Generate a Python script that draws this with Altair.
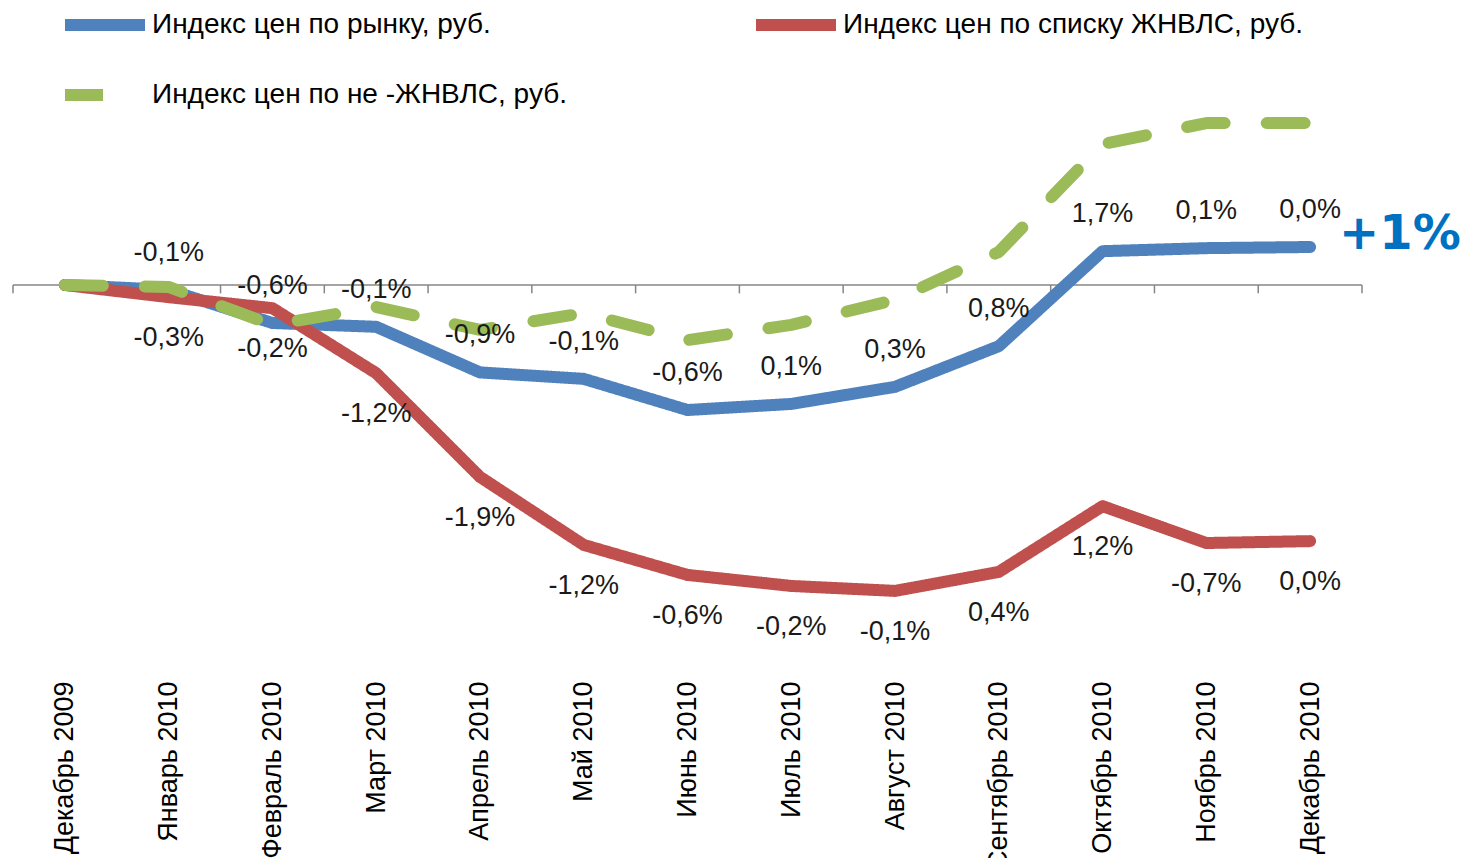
import altair as alt
import pandas as pd

months = ["Декабрь 2009", "Январь 2010", "Февраль 2010", "Март 2010", "Апрель 2010",
          "Май 2010", "Июнь 2010", "Июль 2010", "Август 2010", "Сентябрь 2010",
          "Октябрь 2010", "Ноябрь 2010", "Декабрь 2010"]

S_MARKET = "Индекс цен по рынку, руб."
S_ZHNVLS = "Индекс цен по списку ЖНВЛС, руб."
S_NON = "Индекс цен по не -ЖНВЛС, руб."

# cumulative change vs Dec 2009, %
market = [0, -0.13, -1.0, -1.1, -2.3, -2.47, -3.29, -3.13, -2.68, -1.61, 0.89, 0.97, 1.0]
zhnvls = [0, -0.32, -0.61, -2.32, -5.05, -6.84, -7.63, -7.92, -8.05, -7.55, -5.82, -6.79, -6.74]
non_zhnvls = [0, -0.05, -1.05, -0.58, -1.18, -0.74, -1.45, -1.05, -0.39, 0.87, 3.71, 4.26, 4.26]

market_labels = ["", "-0,1%", "-0,6%", "-0,1%", "-0,9%", "-0,1%", "-0,6%", "0,1%", "0,3%",
                 "0,8%", "1,7%", "0,1%", "0,0%"]
zhnvls_labels = ["", "-0,3%", "-0,2%", "-1,2%", "-1,9%", "-1,2%", "-0,6%", "-0,2%", "-0,1%",
                 "0,4%", "1,2%", "-0,7%", "0,0%"]

end_note = "+1%"

# legend is filled column by column: market, non-ZhNVLS | ZhNVLS
legend_order = [S_MARKET, S_NON, S_ZHNVLS]
legend_colors = ["#4F81BD", "#9BBB59", "#C0504D"]
legend_dash = [[1, 0], [38, 42], [1, 0]]

rows = []
for name, vals, labs in [(S_MARKET, market, market_labels),
                         (S_ZHNVLS, zhnvls, zhnvls_labels),
                         (S_NON, non_zhnvls, [""] * len(months))]:
    for i, (m, v, l) in enumerate(zip(months, vals, labs)):
        rows.append({"series": name, "month": m, "value": v, "label": l, "idx": i,
                     "zero": 0.0, "tick_end": -0.22})
df = pd.DataFrame(rows)

FONT = "Liberation Sans"
W = 1349
STEP = W / len(months)

xscale = alt.Scale(type="point", padding=0.5)
xaxis = alt.Axis(title=None, domain=False, ticks=False, grid=False, labelAngle=-90,
                 labelFont=FONT, labelFontSize=27, labelColor="black",
                 labelPadding=16, labelLimit=0)
xenc = alt.X("month:N", sort=months, scale=xscale, axis=xaxis)
yscale = alt.Scale(domain=[-10, 5], nice=False, zero=False)
yenc = alt.Y("value:Q", scale=yscale, axis=None)

legend = alt.Legend(title=None, orient="none", legendX=46, legendY=-116, columns=2,
                    columnPadding=164, rowPadding=-31, symbolType="stroke", symbolSize=6400,
                    symbolStrokeWidth=12, labelFont=FONT, labelFontSize=28,
                    labelColor="black", labelOffset=1, labelLimit=0, padding=0)

color = alt.Color("series:N", scale=alt.Scale(domain=legend_order, range=legend_colors),
                  legend=legend)
dash = alt.StrokeDash("series:N", scale=alt.Scale(domain=legend_order, range=legend_dash),
                      legend=legend)

base = alt.Chart(df).encode(x=xenc)

zero_line = alt.Chart(df).mark_rule(color="#868686", strokeWidth=1.5).encode(
    y=alt.Y("zero:Q", scale=yscale, axis=None)
).transform_filter((alt.datum.series == S_MARKET) & (alt.datum.idx == 0))

ticks = base.mark_rule(color="#868686", strokeWidth=1.5, xOffset=-STEP / 2).encode(
    y=alt.Y("zero:Q", scale=yscale, axis=None), y2="tick_end:Q"
).transform_filter(alt.datum.series == S_MARKET)

last_tick = base.mark_rule(color="#868686", strokeWidth=1.5, xOffset=STEP / 2).encode(
    y=alt.Y("zero:Q", scale=yscale, axis=None), y2="tick_end:Q"
).transform_filter((alt.datum.series == S_MARKET) & (alt.datum.idx == len(months) - 1))


def line(name):
    return base.mark_line(strokeWidth=12, strokeCap="round", strokeJoin="round").encode(
        y=yenc, color=color, strokeDash=dash
    ).transform_filter(alt.datum.series == name)


text_style = dict(font=FONT, fontSize=27, color="#1a1a1a", align="center", baseline="middle")

market_text = base.mark_text(dy=-37, **text_style).encode(
    y=yenc, text="label:N"
).transform_filter(alt.datum.series == S_MARKET)

zh_text = base.mark_text(dy=41, **text_style).encode(
    y=yenc, text="label:N"
).transform_filter(alt.datum.series == S_ZHNVLS)

note = base.mark_text(dx=29, dy=-12, align="left", baseline="middle", font="DejaVu Sans",
                      fontWeight="bold", fontSize=48, color="#0070C0", text=end_note).encode(
    y=yenc
).transform_filter((alt.datum.series == S_MARKET) & (alt.datum.idx == len(months) - 1))

chart = alt.layer(
    zero_line, ticks, last_tick,
    line(S_MARKET), line(S_ZHNVLS), line(S_NON),
    market_text, zh_text, note
).properties(
    width=W, height=570,
    autosize=alt.AutoSizeParams(type="none"),
    padding={"left": 5, "top": 87, "right": 103, "bottom": 193},
    background="white"
).configure_view(stroke=None)

chart.save("out.html", embed_options={"renderer": "svg", "actions": False})
